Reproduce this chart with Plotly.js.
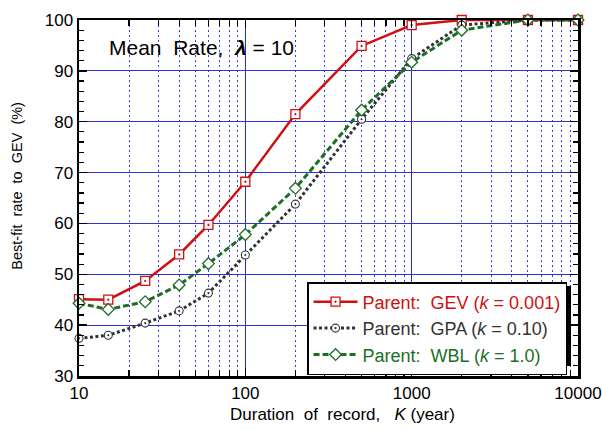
<!DOCTYPE html>
<html>
<head>
<meta charset="utf-8">
<script src="https://cdn.plot.ly/plotly-3.0.1.min.js"></script>
<style>html,body{margin:0;padding:0;background:#fff;}#chart{width:602px;height:429px;}</style>
</head>
<body>
<div id="chart"></div>
<script>
// Duration of record K (years)
var durations = [10, 15, 25, 40, 60, 100, 200, 500, 1000, 2000, 5000, 10000];
// Best-fit rate to GEV (%) for each parent distribution
var gevRate = [45.1, 45.0, 48.7, 53.9, 59.7, 68.2, 81.5, 94.9, 99.0, 100, 100, 100];
var gpaRate = [37.4, 38.0, 40.4, 42.8, 46.3, 53.8, 63.8, 80.5, 92.4, 99.0, 100, 100];
var wblRate = [44.3, 43.1, 44.6, 47.9, 52.1, 57.8, 66.9, 82.3, 91.7, 98.0, 100, 100];
var seriesNames = [
  '<span style="color:#d01010">Parent:\u00A0\u00A0GEV (<i>k</i> = 0.001)</span>',
  '<span style="color:#333333">Parent:\u00A0\u00A0GPA (<i>k</i> = 0.10)</span>',
  '<span style="color:#1d6e25">Parent:\u00A0\u00A0WBL (<i>k</i> = 1.0)</span>'
];
var xTickVals = [10, 100, 1000, 10000];
var xTickText = ['10', '100', '1000', '10000'];

var FONT = 'Liberation Sans, Arial, sans-serif';
var NB = '\u00A0';

var traces = [
  {x: durations, y: gevRate, name: seriesNames[0], mode: 'lines+markers', type: 'scatter', cliponaxis: false,
   line: {color: '#d01010', width: 2.5},
   marker: {symbol: 'square-dot', size: 9, color: '#ffffff', line: {color: '#d01010', width: 1.3}}},
  {x: durations, y: gpaRate, name: seriesNames[1], mode: 'lines+markers', type: 'scatter', cliponaxis: false,
   line: {color: '#333333', width: 3, dash: '3px,2.5px'},
   marker: {symbol: 'circle-dot', size: 8, color: '#ffffff', line: {color: '#333333', width: 1.1}}},
  {x: durations, y: wblRate, name: seriesNames[2], mode: 'lines+markers', type: 'scatter', cliponaxis: false,
   line: {color: '#1d6e25', width: 3, dash: '6px,3px'},
   marker: {symbol: 'diamond', size: 9, color: '#ffffff', line: {color: '#1d6e25', width: 1.3}}}
];

var layout = {
  width: 602, height: 429,
  margin: {l: 79, r: 24, t: 20, b: 53},
  paper_bgcolor: '#ffffff', plot_bgcolor: '#ffffff',
  font: {family: FONT, color: '#000000', size: 16},
  showlegend: true,
  xaxis: {
    type: 'log', range: [1, 4],
    tickvals: xTickVals, ticktext: xTickText,
    tickfont: {size: 17},
    showline: true, linecolor: '#000000', linewidth: 2.5, mirror: 'ticks',
    ticks: 'inside', ticklen: 8, tickwidth: 1.5, tickcolor: '#000000',
    showgrid: true, gridcolor: '#2a2ad0', gridwidth: 1,
    zeroline: false,
    minor: {dtick: 'D1', ticks: 'inside', ticklen: 6, tickwidth: 1.2, tickcolor: '#000000',
            showgrid: true, gridcolor: '#3a3ae0', gridwidth: 1, griddash: '2px,3px'},
    title: {text: ''}
  },
  yaxis: {
    range: [30, 100], dtick: 10, tick0: 30,
    tickfont: {size: 17},
    showline: true, linecolor: '#000000', linewidth: 2.5, mirror: 'ticks',
    ticks: 'inside', ticklen: 8, tickwidth: 1.5, tickcolor: '#000000',
    showgrid: true, gridcolor: '#3030d8', gridwidth: 1,
    zeroline: false,
    minor: {dtick: 2, ticks: 'inside', ticklen: 5, tickwidth: 1.2, tickcolor: '#000000', showgrid: false},
    title: {text: ''}
  },
  legend: {
    x: 0.457, y: 0.264, xanchor: 'left', yanchor: 'top',
    bgcolor: '#ffffff', bordercolor: '#000000', borderwidth: 1.5,
    font: {size: 18, family: FONT},
    itemwidth: 44, tracegroupgap: 0
  },
  shapes: [
    // drop shadow behind the legend box
    {type: 'rect', xref: 'paper', yref: 'paper', layer: 'above',
     x0: 0.4649, x1: 0.986, y0: 0.0281, y1: 0.2528,
     fillcolor: '#000000', line: {width: 0}}
  ],
  annotations: [
    {xref: 'paper', yref: 'paper', x: 0.056, y: 0.924, xanchor: 'left', yanchor: 'middle',
     showarrow: false, text: 'Mean'+NB+NB+'Rate,'+NB+NB+'<b><i>λ</i></b> = 10', font: {size: 21, family: FONT}},
    // x-axis title
    {xref: 'paper', yref: 'paper', x: 0.528, y: -0.107, xanchor: 'center', yanchor: 'middle',
     showarrow: false, text: 'Duration'+NB+NB+'of'+NB+NB+'record,'+NB+NB+NB+'<i>K</i> (year)', font: {size: 17, family: FONT}},
    // y-axis title
    {xref: 'paper', yref: 'paper', x: -0.126, y: 0.535, xanchor: 'center', yanchor: 'middle', textangle: -90,
     showarrow: false, text: 'Best-fit'+NB+NB+'rate'+NB+NB+'to'+NB+NB+'GEV'+NB+NB+'(%)', font: {size: 14.5, family: FONT}}
  ]
};

Plotly.newPlot('chart', traces, layout, {displayModeBar: false, staticPlot: true});
</script>
</body>
</html>
